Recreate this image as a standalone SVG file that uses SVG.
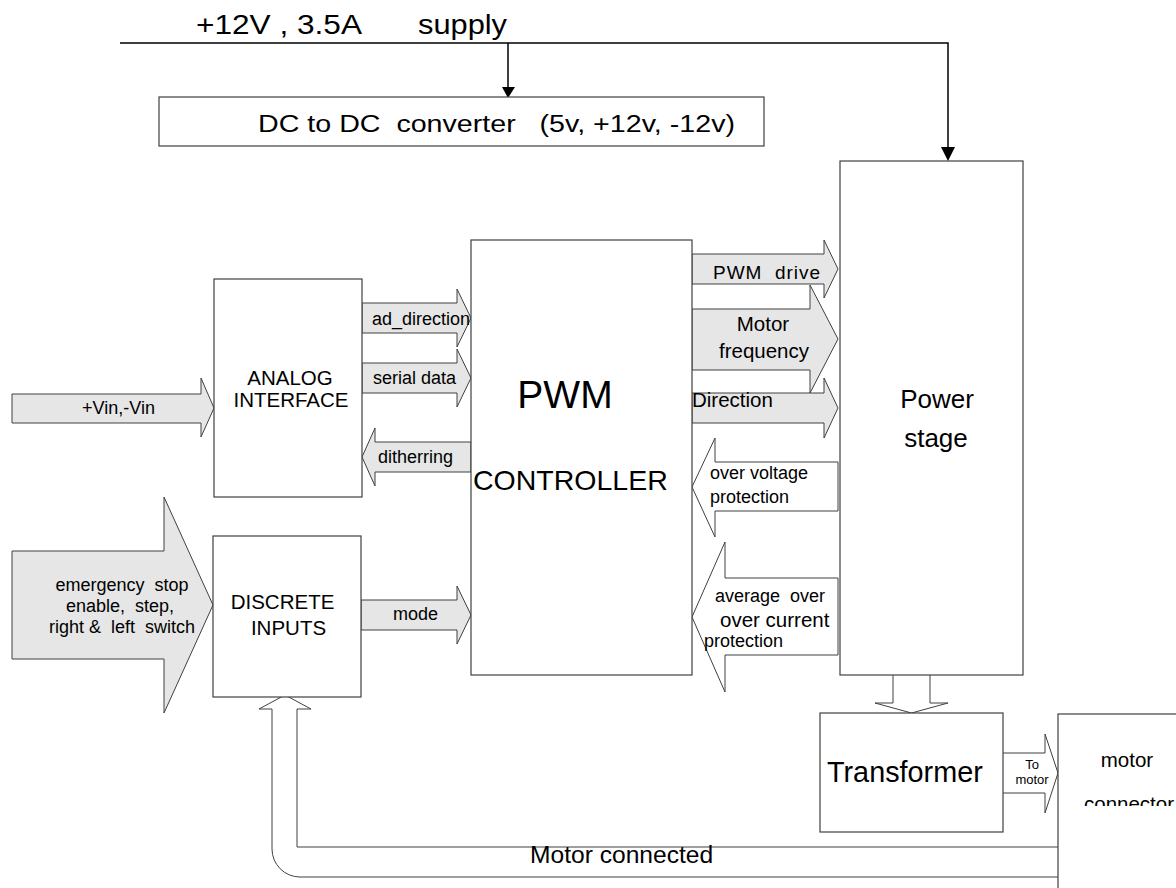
<svg xmlns="http://www.w3.org/2000/svg" width="1176" height="888" viewBox="0 0 1176 888">
<defs>
<style>
text{font-family:"Liberation Sans",Arial,sans-serif;fill:#000}
.box{fill:#fff;stroke:#404040;stroke-width:1.2}
.ga{fill:#e6e6e6;stroke:#404040;stroke-width:1}
.wa{fill:#fff;stroke:#404040;stroke-width:1}
.wire{fill:none;stroke:#000;stroke-width:1.5}
.s18{font-size:18px}
.s20{font-size:20.5px}
.c{text-anchor:middle}
</style>
<clipPath id="mcclip"><rect x="1058" y="714" width="118" height="92"/></clipPath>
</defs>
<rect width="1176" height="888" fill="#fff"/>

<g id="connectors">
  <!-- supply -->
  <text x="196" y="34" font-size="27" textLength="166" lengthAdjust="spacingAndGlyphs">+12V , 3.5A</text>
  <text x="418" y="34" font-size="27" textLength="89" lengthAdjust="spacingAndGlyphs">supply</text>
  <path class="wire" d="M120,43 H948 V148"/>
  <polygon points="941,147 955,147 948,161" fill="#000"/>
  <path class="wire" d="M508,43 V88"/>
  <polygon points="502,87 515,87 508,98" fill="#000"/>

  <!-- +Vin -->
  <path class="ga" d="M12,394 H201 V378 L214,408 L201,437 V423 H12 Z"/>
  <text class="s18" x="82" y="414">+Vin,-Vin</text>

  <!-- emergency -->
  <path class="ga" d="M12,551 H164 V497 L213,605 L164,713 V659 H12 Z"/>
  <text class="s18 c" x="122" y="591" xml:space="preserve">emergency  stop</text>
  <text class="s18 c" x="120" y="612" xml:space="preserve">enable,  step,</text>
  <text class="s18 c" x="122" y="633" xml:space="preserve">right &amp;  left  switch</text>

  <!-- ad_direction -->
  <path class="ga" d="M362,303 H457 V289 L471,318 L457,347 V333 H362 Z"/>
  <text class="s18" x="372" y="325">ad_direction</text>
  <!-- serial data -->
  <path class="ga" d="M362,363 H457 V349 L471,378 L457,407 V393 H362 Z"/>
  <text class="s18" x="373" y="384">serial data</text>
  <!-- ditherring -->
  <path class="ga" d="M471,442 H375 V428 L362,457 L375,486 V472 H471 Z"/>
  <text class="s18" x="378" y="463">ditherring</text>
  <!-- mode -->
  <path class="ga" d="M361,600 H457 V586 L471,615 L457,644 V630 H361 Z"/>
  <text class="s18" x="393" y="620">mode</text>

  <!-- PWM drive -->
  <path class="ga" d="M692,254 H824 V240 L838,269 L824,298 V284 H692 Z"/>
  <text x="713" y="279" font-size="19" textLength="107" xml:space="preserve">PWM  drive</text>
  <!-- Motor frequency -->
  <path class="ga" d="M692,309 H810 V285 L838,339 L810,393 V370 H692 Z"/>
  <text class="s20 c" x="763" y="331">Motor</text>
  <text class="s20 c" x="764" y="358">frequency</text>
  <!-- Direction -->
  <path class="ga" d="M692,393 H824 V378 L838,408 L824,438 V423 H692 Z"/>
  <text class="s20" x="692" y="407">Direction</text>

  <!-- over voltage -->
  <path class="wa" d="M838,462 H715 V438 L692,487 L715,537 V511 H838 Z"/>
  <text class="s18" x="710" y="479">over voltage</text>
  <text class="s18" x="710" y="503">protection</text>
  <!-- average over current -->
  <path class="wa" d="M838,578 H725 V542 L692,617 L725,692 V655 H838 Z"/>
  <text class="s18" x="715" y="602" xml:space="preserve">average  over</text>
  <text x="720" y="627" font-size="20.5">over current</text>
  <text class="s18" x="704" y="647">protection</text>

  <!-- power stage to transformer -->
  <path class="wa" d="M893,675 V703 H875 L911.5,713 L948,703 H930 V675"/>
  <!-- To motor -->
  <path class="wa" d="M1003,753 H1045 V734 L1058,773 L1045,813 V793 H1003"/>
  <text class="c" x="1032" y="769" font-size="13">To</text>
  <text class="c" x="1032" y="784" font-size="13">motor</text>

  <!-- Motor connected -->
  <path class="wa" d="M1058,877 H300 A28,28 0 0 1 272,849 V709 H259 L285,695 L311,709 H297 V847 H1058"/>
  <text x="530" y="863" font-size="24.6">Motor connected</text>
</g>

<g id="dc-converter">
  <rect class="box" x="159" y="97" width="605" height="49"/>
  <text x="258" y="132" font-size="23" textLength="477" lengthAdjust="spacingAndGlyphs" xml:space="preserve">DC to DC  converter   (5v, +12v, -12v)</text>
</g>

<g id="analog-interface">
  <rect class="box" x="214" y="279" width="148" height="218"/>
  <text class="s20 c" x="290" y="385">ANALOG</text>
  <text class="s20 c" x="291" y="407">INTERFACE</text>
</g>

<g id="discrete-inputs">
  <rect class="box" x="213" y="536" width="148" height="161"/>
  <text class="s20 c" x="282.5" y="609">DISCRETE</text>
  <text class="s20 c" x="288.5" y="635">INPUTS</text>
</g>

<g id="pwm-controller">
  <rect class="box" x="471" y="240" width="221" height="435"/>
  <text class="c" x="565" y="408" font-size="39">PWM</text>
  <text x="473" y="490" font-size="28.5">CONTROLLER</text>
</g>

<g id="power-stage">
  <rect class="box" x="840" y="161" width="183" height="514"/>
  <text class="c" x="937" y="408" font-size="26">Power</text>
  <text class="c" x="936" y="447" font-size="26">stage</text>
</g>

<g id="transformer">
  <rect class="box" x="820" y="713" width="183" height="119"/>
  <text x="827" y="782" font-size="28.8">Transformer</text>
</g>

<g id="motor-connector">
  <rect class="box" x="1058" y="714" width="140" height="190"/>
  <text class="s20 c" x="1127" y="767">motor</text>
  <text class="s20" x="1084" y="811" clip-path="url(#mcclip)">connector</text>
</g>
</svg>
